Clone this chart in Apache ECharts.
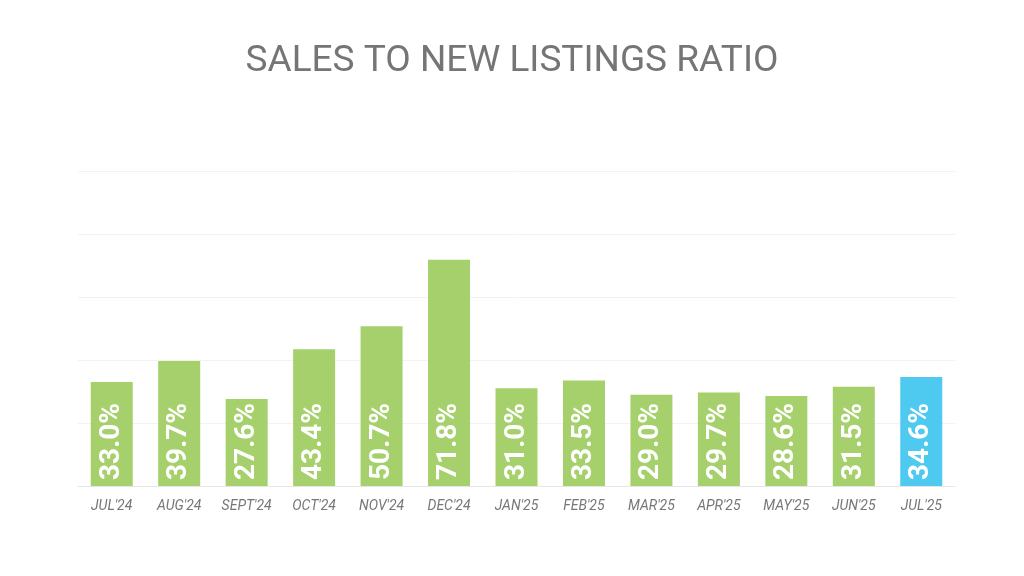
<!DOCTYPE html>
<html><head><meta charset="utf-8">
<script src="https://cdn.jsdelivr.net/npm/echarts@6/dist/echarts.min.js"></script>
<style>html,body{margin:0;padding:0;background:#fff}#c{width:1024px;height:576px}</style>
</head><body><div id="c"></div>
<script>
const categories = ["JUL'24","AUG'24","SEPT'24","OCT'24","NOV'24","DEC'24","JAN'25","FEB'25","MAR'25","APR'25","MAY'25","JUN'25","JUL'25"];
const ratios = [33.0,39.7,27.6,43.4,50.7,71.8,31.0,33.5,29.0,29.7,28.6,31.5,34.6];
const barColors = ['#a5d06b','#a5d06b','#a5d06b','#a5d06b','#a5d06b','#a5d06b','#a5d06b','#a5d06b','#a5d06b','#a5d06b','#a5d06b','#a5d06b','#4ec9f0'];
const chart = echarts.init(document.getElementById('c'));
chart.setOption({
  backgroundColor:'#fff',
  title:{text:'SALES TO NEW LISTINGS RATIO',left:'center',top:38,textStyle:{fontFamily:'Roboto',fontWeight:'normal',fontSize:37,color:'#757575'}},
  grid:{left:78,right:69,top:171,bottom:90},
  xAxis:{type:'category',data:categories,axisTick:{show:false},axisLine:{lineStyle:{color:'#e6e6e6'}},
    axisLabel:{fontFamily:'Roboto',fontStyle:'italic',fontSize:14,color:'#777',margin:13}},
  yAxis:{type:'value',min:0,max:100,interval:20,axisLabel:{show:false},splitLine:{lineStyle:{color:'#f2f2f2'}}},
  series:[{type:'bar',barWidth:42,
    data:ratios.map((v,i)=>({value:v,itemStyle:{color:barColors[i]}})),
    label:{show:true,position:'insideBottom',rotate:90,align:'left',verticalAlign:'middle',distance:6,
      formatter:p=>p.value.toFixed(1)+'%',color:'#fff',fontFamily:'Roboto',fontWeight:'bold',fontSize:28}
  }]
});
</script></body></html>
